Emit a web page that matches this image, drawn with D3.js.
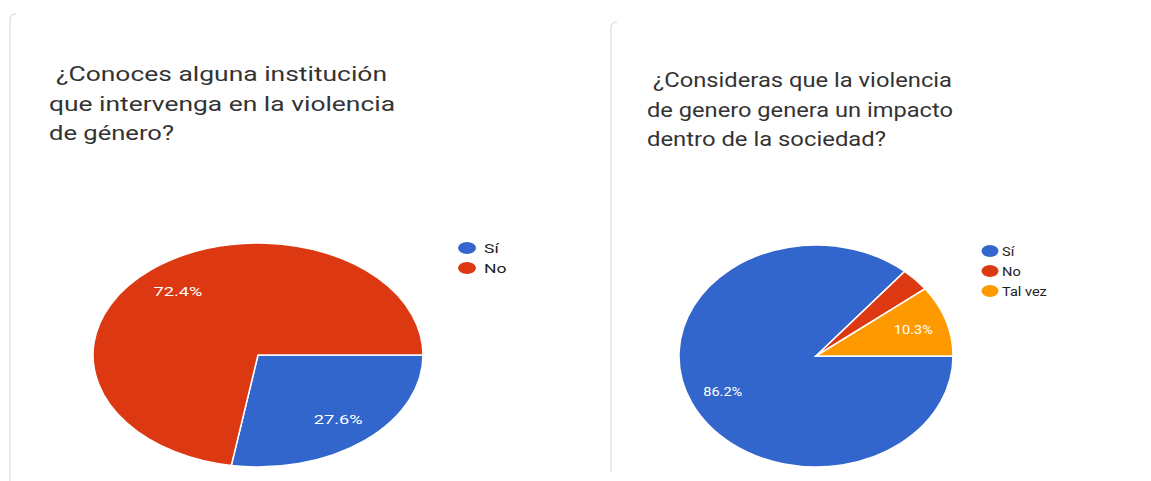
<!DOCTYPE html>
<html>
<head>
<meta charset="utf-8">
<script src="https://cdn.jsdelivr.net/npm/d3@7"></script>
<style>
  html, body { margin: 0; padding: 0; background: #ffffff; }
  svg { display: block; font-family: Roboto, "Noto Sans", Arial, sans-serif; }
</style>
</head>
<body>
<svg id="chart" width="1151" height="481"></svg>
<script>
// ---- Data ----
const leftTitle = [" ¿Conoces alguna institución", "que intervenga en la violencia", "de género?"];
const leftCategories = ["Sí", "No"];
const leftValues = [8, 21];          // 27.6% / 72.4%
const leftLabels = ["27.6%", "72.4%"];

const rightTitle = [" ¿Consideras que la violencia", "de genero genera un impacto", "dentro de la sociedad?"];
const rightCategories = ["Sí", "No", "Tal vez"];
const rightValues = [25, 1, 3];      // 86.2% / 3.4% / 10.3%
const rightLabels = ["86.2%", "", "10.3%"];

const palette = ["#3366cc", "#dc3912", "#ff9900"];

const svg = d3.select("#chart");

// card edges
function card(x, y, h) {
  svg.append("path")
    .attr("d", `M${x},${y + h} L${x},${y + 6} Q${x},${y} ${x + 6},${y}`)
    .attr("fill", "none")
    .attr("stroke", "#e3e3e3")
    .attr("stroke-width", 1.5);
}
card(10, 14, 467);
card(611, 22, 450);

function drawTitle(lines, cfg) {
  const g = svg.append("g");
  lines.forEach((t, i) => {
    g.append("text")
      .attr("x", cfg.x[i])
      .attr("y", cfg.y0 + i * cfg.dy)
      .attr("font-size", cfg.size)
      .attr("fill", "#333333")
      .attr("textLength", cfg.w[i])
      .attr("lengthAdjust", "spacingAndGlyphs")
      .text(t.trim());
  });
}

drawTitle(leftTitle, { x: [56, 49, 49], w: [331, 346, 125], y0: 81, dy: 29.5, size: 20 });
drawTitle(rightTitle, { x: [653, 647, 647], w: [299, 306, 239], y0: 87, dy: 29.5, size: 19.5 });

function drawPie(cfg) {
  const R = 100;
  const sx = cfg.rx / R, sy = cfg.ry / R;
  const pie = d3.pie().sort(null).startAngle(Math.PI / 2).endAngle(Math.PI / 2 + 2 * Math.PI);
  const arcs = pie(cfg.values);
  const arc = d3.arc().innerRadius(0).outerRadius(R);
  const labelArc = d3.arc().innerRadius(R * 0.75).outerRadius(R * 0.75);
  const color = d3.scaleOrdinal().domain(cfg.categories).range(palette);

  const g = svg.append("g").attr("transform", `translate(${cfg.cx},${cfg.cy})`);
  g.append("g").attr("transform", `scale(${sx},${sy})`)
    .selectAll("path").data(arcs).join("path")
    .attr("d", arc)
    .attr("fill", (d, i) => color(cfg.categories[i]))
    .attr("stroke", "#ffffff")
    .attr("stroke-width", 1.5)
    .attr("vector-effect", "non-scaling-stroke");

  g.selectAll("text.lbl").data(arcs).join("text")
    .attr("class", "lbl")
    .attr("transform", d => {
      const c = labelArc.centroid(d);
      return `translate(${c[0] * sx},${c[1] * sy}) scale(${cfg.tk},1)`;
    })
    .attr("dy", "0.35em")
    .attr("text-anchor", "middle")
    .attr("font-size", cfg.labelSize)
    .attr("fill", "#ffffff")
    .text((d, i) => cfg.labels[i]);

  // legend
  const lg = svg.append("g").attr("transform", `translate(${cfg.lx},${cfg.ly})`);
  cfg.categories.forEach((c, i) => {
    lg.append("ellipse")
      .attr("cx", 0).attr("cy", i * 20)
      .attr("rx", cfg.lrx).attr("ry", 6)
      .attr("fill", color(c));
    lg.append("text")
      .attr("transform", `translate(${cfg.ltx},${i * 20}) scale(${cfg.tk},1)`)
      .attr("dy", "0.35em")
      .attr("font-size", 13)
      .attr("fill", "#222222")
      .text(c);
  });
}

drawPie({ cx: 258, cy: 355, rx: 165, ry: 112, values: leftValues, categories: leftCategories,
          labels: leftLabels, labelSize: 13.5, tk: 1.35, lx: 467, ly: 248, lrx: 9, ltx: 17 });
drawPie({ cx: 816, cy: 356, rx: 137, ry: 111, values: rightValues, categories: rightCategories,
          labels: rightLabels, labelSize: 13, tk: 1.12, lx: 990, ly: 251, lrx: 8.5, ltx: 12 });
</script>
</body>
</html>
